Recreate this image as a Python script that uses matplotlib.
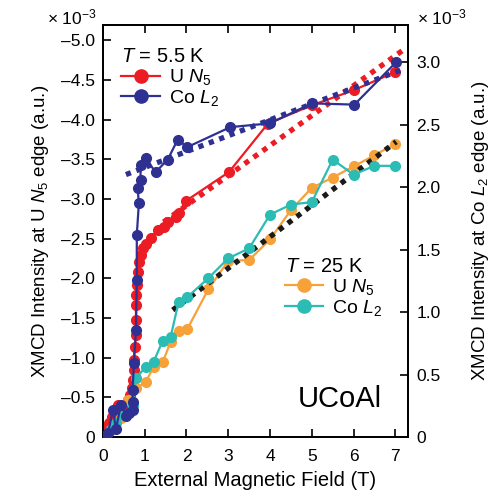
import matplotlib
matplotlib.use("Agg")
import matplotlib.pyplot as plt
from matplotlib.ticker import FixedLocator, FuncFormatter

plt.rcParams['font.family'] = ['Liberation Sans', 'DejaVu Sans']
plt.rcParams['mathtext.fontset'] = 'custom'
plt.rcParams['mathtext.rm'] = 'Liberation Sans'
plt.rcParams['mathtext.it'] = 'Liberation Sans:italic'

# T = 5.5 K, U N5 (left axis, x1e-3)
u55_x = [0.02, 0.07, 0.14, 0.21, 0.31, 0.36, 0.45, 0.52, 0.60, 0.64, 0.69, 0.71, 0.74, 0.74,
         0.76, 0.79, 0.79, 0.79, 0.79, 0.81, 0.83, 0.86, 0.90, 0.95, 1.02, 1.14, 1.31, 1.45,
         1.55, 1.74, 1.81, 2.0, 3.02, 3.95, 5.0, 6.0, 7.0]
u55_y = [-0.05, -0.13, -0.18, -0.25, -0.34, -0.40, -0.34, -0.40, -0.47, -0.53, -0.62, -0.72,
         -0.84, -0.97, -1.13, -1.28, -1.47, -1.66, -1.79, -1.92, -2.08, -2.20, -2.29, -2.38,
         -2.43, -2.51, -2.61, -2.64, -2.71, -2.77, -2.82, -2.98, -3.34, -3.95, -4.18, -4.37, -4.60]

# T = 5.5 K, Co L2 (right axis)
co55_x = [0.02, 0.12, 0.24, 0.31, 0.43, 0.55, 0.62, 0.71, 0.71, 0.71, 0.74, 0.79, 0.81, 0.81,
          0.86, 0.83, 0.90, 0.90, 1.02, 1.26, 1.55, 1.79, 2.02, 3.05, 4.0, 5.0, 6.02, 7.02]
co55_y = [0.01, 0.03, 0.22, 0.06, 0.26, 0.17, 0.19, 0.22, 0.28, 0.38, 0.59, 0.86, 1.26, 1.62,
          1.87, 1.99, 2.06, 2.18, 2.23, 2.12, 2.22, 2.38, 2.32, 2.48, 2.51, 2.67, 2.66, 3.0]

# T = 25 K, U N5 (left axis)
u25_x = [0.05, 0.19, 0.26, 0.43, 0.60, 0.79, 1.02, 1.21, 1.43, 1.62, 1.81, 2.02, 2.52, 3.0,
         3.5, 4.0, 4.5, 5.0, 5.5, 6.0, 6.5, 6.98]
u25_y = [-0.01, -0.09, -0.15, -0.24, -0.47, -0.62, -0.69, -0.88, -0.94, -1.20, -1.34, -1.36,
         -1.86, -2.22, -2.23, -2.49, -2.86, -3.14, -3.27, -3.41, -3.55, -3.69]

# T = 25 K, Co L2 (right axis)
co25_x = [0.05, 0.19, 0.31, 0.50, 0.71, 0.79, 1.02, 1.21, 1.43, 1.62, 1.81, 2.02, 2.52, 3.0,
          3.5, 4.0, 4.5, 5.0, 5.5, 6.0, 6.5, 6.98]
co25_y = [0.01, 0.06, 0.11, 0.18, 0.26, 0.47, 0.56, 0.60, 0.77, 0.80, 1.08, 1.12, 1.27, 1.43,
          1.51, 1.78, 1.86, 1.88, 2.22, 2.10, 2.17, 2.17]

# linear fits (end points)
fit_u55_x, fit_u55_y = [1.45, 7.25], [-2.71, -4.90]
fit_co55_x, fit_co55_y = [0.55, 7.24], [2.10, 2.95]
fit_25_x, fit_25_y = [1.67, 7.02], [-1.60, -3.72]

red, blue, orange, teal = '#ec1c24', '#2e3192', '#f7a139', '#2bbcb4'

fig = plt.figure(figsize=(4.95, 4.93), dpi=100)
ax = fig.add_axes([0.208, 0.1136, 0.616, 0.8354])
ax2 = ax.twinx()

ms, lw = 7, 1.6
dot = (0, (1, 1.1))
ax.plot(fit_u55_x, fit_u55_y, color=red, lw=3.8, ls=dot, zorder=1)
ax.plot(u55_x, u55_y, '-o', color=red, ms=ms, lw=lw, zorder=2)
ax.plot(u25_x, u25_y, '-o', color=orange, ms=ms, lw=lw, zorder=2)
ax.plot(fit_25_x, fit_25_y, color='#1a1a1a', lw=3.8, ls=dot, zorder=3)
ax2.plot(co25_x, co25_y, '-o', color=teal, ms=ms, lw=lw, zorder=2)
ax2.plot(fit_co55_x, fit_co55_y, color=blue, lw=3.8, ls=dot, zorder=1)
ax2.plot(co55_x, co55_y, '-o', color=blue, ms=ms, lw=lw, zorder=3)

ax.set_xlim(0, 7.3)
ax.set_ylim(0, -5.19)
ax2.set_ylim(0, 3.296)

ax.xaxis.set_major_locator(FixedLocator(range(8)))
ax.yaxis.set_major_locator(FixedLocator([-0.5 * i for i in range(11)]))
ax2.yaxis.set_major_locator(FixedLocator([0.5 * i for i in range(7)]))
ax.yaxis.set_major_formatter(FuncFormatter(lambda v, p: '0' if v == 0 else ('%.1f' % v).replace('-', '\u2013')))
ax2.yaxis.set_major_formatter(FuncFormatter(lambda v, p: '0' if v == 0 else '%.1f' % v))

ax.tick_params(axis='x', direction='in', top=True, length=6, width=1.2, labelsize=12.5, pad=9)
ax.tick_params(axis='y', direction='in', length=6, width=1.2, labelsize=12.5, pad=6)
ax2.tick_params(axis='y', direction='in', length=6, width=1.2, labelsize=12.5, pad=6)
for a in (ax, ax2):
    for s in a.spines.values():
        s.set_linewidth(1.3)

ax.set_xlabel('External Magnetic Field (T)', fontsize=14.5, labelpad=5)
ax.set_ylabel('XMCD Intensity at U $N_5$ edge (a.u.)', fontsize=13.5, labelpad=7)
ax2.set_ylabel('XMCD Intensity at Co $L_2$ edge (a.u.)', fontsize=13.5, labelpad=21, rotation=90)

fig.text(0.095, 0.95, '\u00d7 10$^{-3}$', fontsize=12.5, ha='left', va='baseline')
fig.text(0.842, 0.95, '\u00d7 10$^{-3}$', fontsize=12.5, ha='left', va='baseline')

h55 = [plt.Line2D([], [], color=red, marker='o', ms=9.5, lw=lw),
       plt.Line2D([], [], color=blue, marker='o', ms=9.5, lw=lw)]
h25 = [plt.Line2D([], [], color=orange, marker='o', ms=9.5, lw=lw),
       plt.Line2D([], [], color=teal, marker='o', ms=9.5, lw=lw)]
leg1 = ax2.legend(h55, ['U $N_5$', 'Co $L_2$'], title='$T$ = 5.5 K', loc='upper left',
                  bbox_to_anchor=(0.035, 0.965), frameon=False, fontsize=14, title_fontsize=14.5,
                  handlelength=2.0, handletextpad=0.45, labelspacing=0.05, borderaxespad=0.0)
leg1._legend_box.align = 'left'
ax2.add_artist(leg1)
leg2 = ax2.legend(h25, ['U $N_5$', 'Co $L_2$'], title='$T$ = 25 K', loc='upper left',
                  bbox_to_anchor=(0.57, 0.457), frameon=False, fontsize=14, title_fontsize=14.5,
                  handlelength=2.0, handletextpad=0.45, labelspacing=0.05, borderaxespad=0.0)
leg2._legend_box.align = 'left'

ax2.text(0.915, 0.058, 'UCoAl', transform=ax2.transAxes, fontsize=21, ha='right', va='bottom')

fig.savefig('out.png', dpi=100)
